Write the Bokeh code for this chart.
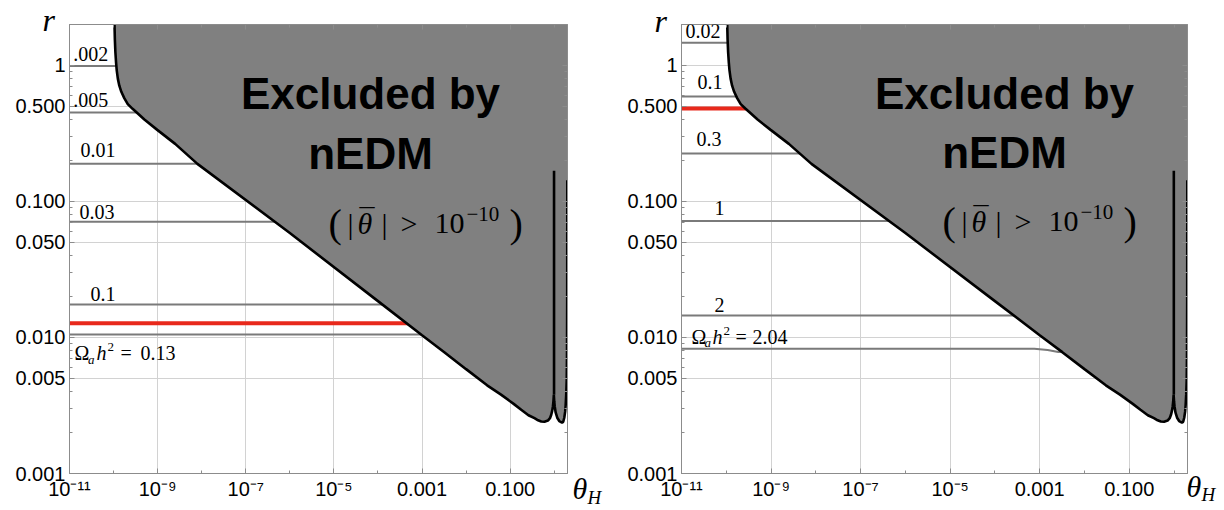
import math
from bokeh.plotting import figure
from bokeh.models import Label, FixedTicker, LogAxis, Range1d
from bokeh.layouts import row
from bokeh.embed import file_html
from bokeh.resources import INLINE

# ---------------- data ----------------
theta_range = [1e-11, 2.0]
r_range = [1e-3, 2.0]

# boundary of the region excluded by nEDM (|theta_bar| > 1e-10)
boundary_theta = [1.05e-10, 1.07e-10, 1.10e-10, 1.14e-10, 1.18e-10, 1.25e-10, 1.35e-10, 1.5e-10,
                  1.75e-10, 2.1e-10, 2.7e-10, 3.5e-10, 5.0e-10, 9.8e-10, 2.5e-9, 8.0e-9,
                  1.0e-6, 1.0e-4, 1.0e-3, 3.2e-3, 1.0e-2, 3.0e-2, 6.2e-2, 0.12, 0.178, 0.26,
                  0.356, 0.43, 0.507, 0.60, 0.719, 0.80, 0.855, 0.90, 0.933, 0.96, 0.98,
                  1.00, 1.026, 1.08, 1.17, 1.30, 1.50, 1.60, 1.69, 1.77, 1.82, 1.87, 1.92, 1.95,
                  1.97, 1.98]
boundary_r = [2.0, 1.55, 1.25, 1.05, 0.92, 0.80, 0.71, 0.64,
              0.575, 0.52, 0.48, 0.445, 0.40, 0.336, 0.265, 0.189,
              0.0586, 0.0185, 0.0104, 0.0078, 0.00585, 0.00445, 0.0038, 0.00325, 0.00294, 0.00268,
              0.00255, 0.00246, 0.00241, 0.00240, 0.00245, 0.00255, 0.0027, 0.0029, 0.00311, 0.0034, 0.00379,
              0.0034, 0.00311, 0.0028, 0.00257, 0.00243, 0.00237, 0.00240, 0.00257, 0.00285, 0.0032, 0.0038, 0.00489, 0.0075,
              0.0189, 0.143]
spike_theta = [0.99, 0.99]
spike_r = [0.0038, 0.168]

# left panel: Omega_a h^2 contours
left_labels = [".002", ".005", "0.01", "0.03", "0.1", "0.13"]
left_r = [0.99, 0.451, 0.189, 0.071, 0.0175, 0.0105]
left_red_r = 0.0127

# right panel: Omega_a h^2 contours
right_labels = ["0.02", "0.1", "0.3", "1", "2", "2.04"]
right_r = [1.47, 0.59, 0.225, 0.0717, 0.0145]
right_last_theta = [1e-11, 7.6e-4, 1.5e-3, 2.6e-3, 1.0]
right_last_r = [0.00827, 0.00827, 0.0081, 0.00783, 0.00783]
right_red_r = 0.482

x_major = [1e-11, 1e-9, 1e-7, 1e-5, 1e-3, 1e-1]
x_major_labels = ["10\u207b\u00b9\u00b9", "10\u207b\u2079", "10\u207b\u2077", "10\u207b\u2075", "0.001", "0.100"]
x_minor = [1e-10, 1e-8, 1e-6, 1e-4, 1e-2, 1.0]
y_major = [0.001, 0.005, 0.01, 0.05, 0.1, 0.5, 1.0]
y_major_labels = ["0.001", "0.005", "0.010", "0.050", "0.100", "0.500", "1"]
y_minor = [m * 10.0 ** k for k in (-3, -2, -1, 0) for m in (2, 3, 4, 6, 7, 8, 9) if m * 10.0 ** k < 2.0]

GRAY_FILL = "#808080"
CONTOUR = "#7a7a7a"
RED = "#e8291c"
FRAME = "#8c8c8c"
SERIF = "Liberation Serif"


def make_fig(borders):
    lft, rgt, top, bot = borders
    p = figure(width=612, height=510, x_axis_type="log", y_axis_type="log",
               x_range=Range1d(*theta_range), y_range=Range1d(*r_range),
               output_backend="svg", toolbar_location=None,
               min_border_left=lft, min_border_right=rgt,
               min_border_top=top, min_border_bottom=bot)
    p.background_fill_color = "white"
    p.border_fill_color = "white"
    p.outline_line_color = FRAME
    xt = FixedTicker(ticks=x_major, minor_ticks=x_minor)
    yt = FixedTicker(ticks=y_major, minor_ticks=y_minor)
    bottom_ax = p.below[0]
    left_ax = p.left[0]
    bottom_ax.ticker = xt
    left_ax.ticker = yt
    p.xgrid.ticker = xt
    p.ygrid.ticker = yt
    bottom_ax.major_label_overrides = dict(zip(x_major, x_major_labels))
    left_ax.major_label_overrides = dict(zip(y_major, y_major_labels))
    for g in (p.xgrid, p.ygrid):
        g.grid_line_color = "#d2d2d2"
        g.grid_line_width = 1
    top_ax = LogAxis(ticker=xt)
    right_ax = LogAxis(ticker=yt)
    p.add_layout(top_ax, "above")
    p.add_layout(right_ax, "right")
    for ax in (bottom_ax, left_ax, top_ax, right_ax):
        ax.axis_line_color = FRAME
        ax.major_tick_line_color = FRAME
        ax.minor_tick_line_color = FRAME
        ax.major_tick_in = 5
        ax.major_tick_out = 0
        ax.minor_tick_in = 3
        ax.minor_tick_out = 0
        ax.major_label_text_font = "Liberation Sans"
        ax.major_label_text_font_size = "20px"
        ax.major_label_text_color = "black"
        ax.major_label_standoff = 4
    for ax in (top_ax, right_ax):
        ax.major_label_text_font_size = "1px"
        ax.major_label_text_alpha = 0
        ax.major_label_standoff = 0
    return p


def to_data(frame, px, py):
    x0, x1, y0, y1 = frame
    lx0, lx1 = math.log10(theta_range[0]), math.log10(theta_range[1])
    ly0, ly1 = math.log10(r_range[0]), math.log10(r_range[1])
    lx = lx0 + (px - x0) / (x1 - x0) * (lx1 - lx0)
    ly = ly1 - (py - y0) / (y1 - y0) * (ly1 - ly0)
    return 10 ** lx, 10 ** ly


def put(p, frame, px, py, text, size, font=SERIF, style="normal", align="left", side=None):
    # py is the wanted baseline; compensate the label box offset (~0.33 em)
    x, y = to_data(frame, px, py - 0.33 * size)
    lab = Label(x=x, y=y, text=text, text_font=font, text_font_size=f"{size}px",
                text_font_style=style, text_align=align, text_baseline="alphabetic",
                text_color="black")
    if side is None:
        p.add_layout(lab)
    else:
        p.add_layout(lab, side)


def draw_region(p):
    xs = boundary_theta + [2.0]
    ys = boundary_r + [2.0]
    p.patch(xs, ys, fill_color=GRAY_FILL, line_color=None)
    p.line(boundary_theta, boundary_r, line_color="black", line_width=2.6)
    p.line(spike_theta, spike_r, line_color="black", line_width=2.6)


def omega_label(p, frame, px, py, val, offs):
    oa, oh, o2, oe, ov = offs
    put(p, frame, px, py, "\u03a9", 20)
    put(p, frame, px + oa, py + 4, "a", 13, style="italic")
    put(p, frame, px + oh, py, "h", 20, style="italic")
    put(p, frame, px + o2, py - 8, "2", 13)
    put(p, frame, px + oe, py, "=", 20)
    put(p, frame, px + ov, py, val, 20)


def annotate(p, frame, cx, px0, ppy):
    put(p, frame, cx, 108, "Excluded by", 44, font="Liberation Sans", style="bold", align="center")
    put(p, frame, cx, 168, "nEDM", 44, font="Liberation Sans", style="bold", align="center")
    put(p, frame, px0, ppy + 3, "(", 40)
    put(p, frame, px0 + 19, ppy, "|", 30)
    put(p, frame, px0 + 29, ppy, "\u03b8", 30, style="italic")
    put(p, frame, px0 + 31, ppy - 5, "\u00af", 30)
    put(p, frame, px0 + 53, ppy, "|", 30)
    put(p, frame, px0 + 72, ppy, ">", 30)
    put(p, frame, px0 + 106, ppy, "10", 30)
    put(p, frame, px0 + 138, ppy - 13, "\u221210", 21)
    put(p, frame, px0 + 181, ppy + 3, ")", 40)


# ---------------- left panel ----------------
FL = (69, 567, 24, 473)
p1 = make_fig((69, 45, 24, 37))
p1.multi_line([[theta_range[0], 1.0] for _ in left_r], [[v, v] for v in left_r],
              line_color=CONTOUR, line_width=2)
p1.line([theta_range[0], 1.0], [left_red_r, left_red_r], line_color=RED, line_width=4)
draw_region(p1)
for lab, (px, py) in zip(left_labels[:5], [(72.7, 60), (72.7, 106.5), (80, 156.5), (79, 218), (90, 300.5)]):
    put(p1, FL, px, py, lab, 20)
omega_label(p1, FL, 74, 359, left_labels[5], (13.5, 22, 33, 46, 66))
annotate(p1, FL, 370, 328, 233)
put(p1, FL, 42, 30, "r", 32, style="italic", side="left")
put(p1, FL, 572, 498, "\u03b8", 30, style="italic", side="right")
put(p1, FL, 587, 503, "H", 19, style="italic", side="right")

# ---------------- right panel ----------------
FR = (681, 1187, 23, 479)
p2 = make_fig((69, 37, 23, 31))
p2.multi_line([[theta_range[0], 1.0] for _ in right_r], [[v, v] for v in right_r],
              line_color=CONTOUR, line_width=2)
p2.line(right_last_theta, right_last_r, line_color=CONTOUR, line_width=2)
p2.line([theta_range[0], 1.0], [right_red_r, right_red_r], line_color=RED, line_width=4)
draw_region(p2)
for lab, (px, py) in zip(right_labels[:5], [(685, 36.5), (697, 88), (696, 146), (714, 216), (714, 314)]):
    put(p2, FR, px, py, lab, 20)
omega_label(p2, FR, 691, 346.5, right_labels[5], (13, 21, 32, 44, 61))
annotate(p2, FR, 1004, 942, 233)
put(p2, FR, 654, 30, "r", 32, style="italic", side="left")
put(p2, FR, 1186, 502, "\u03b8", 30, style="italic", side="right")
put(p2, FR, 1201, 507, "H", 19, style="italic", side="right")

layout = row(p1, p2)
open("out.html", "w").write(file_html(layout, INLINE))
